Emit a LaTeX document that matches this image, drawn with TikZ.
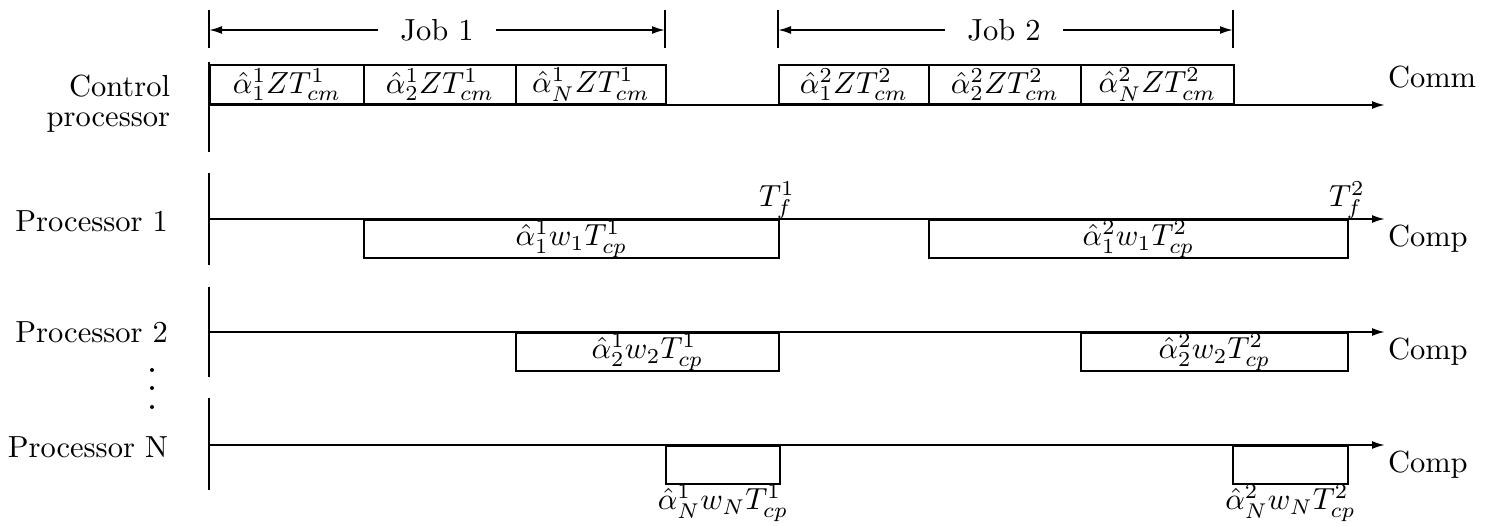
\documentclass[tikz,border=0pt]{standalone}
\usepackage{graphicx}
\usetikzlibrary{arrows.meta}
% text is set at 10pt and enlarged, so the 10pt designs are used
\newcommand\enl[1]{\scalebox{3.05}{#1}}

\begin{document}
\begin{tikzpicture}[x=1pt,y=-1pt,line width=2pt,
  every node/.style={font=\fontsize{10}{9.8}\selectfont,inner sep=0pt},
  slot/.style={draw,line width=2pt,minimum height=39pt},
  cslot/.style={slot,anchor=south west},
  pslot/.style={slot,anchor=north west,minimum height=38pt},
  tip/.style={-{Latex[length=13pt,width=8pt]}},
  axis/.style={tip,line width=2pt},
  rowlabel/.style={anchor=base east},
  outlabel/.style={anchor=base west},
  joblabel/.style={inner xsep=21pt}]
\useasboundingbox (0,0) rectangle (1492,526);

% ---- job spans ----
\coordinate (t1a) at (209,10);  \coordinate (t1b) at (209,48);
\coordinate (t2a) at (665,10);  \coordinate (t2b) at (665,48);
\coordinate (t3a) at (778,10);  \coordinate (t3b) at (778,48);
\coordinate (t4a) at (1233,10); \coordinate (t4b) at (1233,48);
\draw (t1a) -- (t1b);
\draw (t2a) -- (t2b);
\draw (t3a) -- (t3b);
\draw (t4a) -- (t4b);
\node[joblabel] (job1) at (437,30) {\enl{Job 1}};
\node[joblabel] (job2) at (1004,30) {\enl{Job 2}};
\draw[tip] (job1.west) -- (209,30);
\draw[tip] (job1.east) -- (665,30);
\draw[tip] (job2.west) -- (778,30);
\draw[tip] (job2.east) -- (1233,30);

% ---- control processor (communication) ----
\node[anchor=east] (ctl) at (171,105.5)
  {\enl{\begin{tabular}{@{}r@{}}Control\\processor\end{tabular}}};
\coordinate (cTop) at (209,62);
\coordinate (cBot) at (209,152);
\coordinate (cAx) at (209,105);
\coordinate (cEnd) at (1385,105);
\draw (cTop) -- (cBot);
\draw[axis] (cAx) -- (cEnd);
\node[outlabel] (comm) at (1387,88) {\enl{Comm}};

\node[cslot,minimum width=154pt] (c11) at (209,105) {};
\node[cslot,minimum width=152pt] (c12) at (363,105) {};
\node[cslot,minimum width=150pt] (c1N) at (515,105) {};
\node[cslot,minimum width=150pt] (c21) at (778,105) {};
\node[cslot,minimum width=152pt] (c22) at (928,105) {};
\node[cslot,minimum width=153pt] (c2N) at (1080,105) {};
\node (lc11) at (c11) {\enl{$\hat{\alpha}^1_1 Z T^1_{cm}$}};
\node (lc12) at (c12) {\enl{$\hat{\alpha}^1_2 Z T^1_{cm}$}};
\node (lc1N) at (c1N) {\enl{$\hat{\alpha}^1_N Z T^1_{cm}$}};
\node (lc21) at (c21) {\enl{$\hat{\alpha}^2_1 Z T^2_{cm}$}};
\node (lc22) at (c22) {\enl{$\hat{\alpha}^2_2 Z T^2_{cm}$}};
\node (lc2N) at (c2N) {\enl{$\hat{\alpha}^2_N Z T^2_{cm}$}};

% ---- processor 1 ----
\node[rowlabel] (p1) at (169,232) {\enl{Processor 1}};
\coordinate (p1Top) at (209,173);
\coordinate (p1Bot) at (209,265);
\coordinate (p1Ax) at (209,219);
\coordinate (p1End) at (1385,219);
\draw (p1Top) -- (p1Bot);
\draw[axis] (p1Ax) -- (p1End);
\node[pslot,minimum width=415pt] (b11) at (363,219) {};
\node[pslot,minimum width=419pt] (b21) at (928,219) {};
\node (lb11) at (b11) {\enl{$\hat{\alpha}^1_1 w_1 T^1_{cp}$}};
\node (lb21) at (b21) {\enl{$\hat{\alpha}^2_1 w_1 T^2_{cp}$}};
\node[anchor=south] (tf1) at (777,220) {\enl{$T^1_f$}};
\node[anchor=south] (tf2) at (1347,220) {\enl{$T^2_f$}};
\node[outlabel] (comp1) at (1387,247) {\enl{Comp}};

% ---- processor 2 ----
\node[rowlabel] (p2) at (169,343) {\enl{Processor 2}};
\coordinate (p2Top) at (209,287);
\coordinate (p2Bot) at (209,377);
\coordinate (p2Ax) at (209,332);
\coordinate (p2End) at (1385,332);
\draw (p2Top) -- (p2Bot);
\draw[axis] (p2Ax) -- (p2End);
\node[pslot,minimum width=263pt] (b12) at (515,332) {};
\node[pslot,minimum width=267pt] (b22) at (1080,332) {};
\node (lb12) at (b12) {\enl{$\hat{\alpha}^1_2 w_2 T^1_{cp}$}};
\node (lb22) at (b22) {\enl{$\hat{\alpha}^2_2 w_2 T^2_{cp}$}};
\node[outlabel] (comp2) at (1387,360) {\enl{Comp}};

% ---- ellipsis between rows ----
\fill (152,370) circle (2pt);
\fill (152,388) circle (2pt);
\fill (152,407) circle (2pt);

% ---- processor N ----
\node[rowlabel] (pN) at (169,457) {\enl{Processor N}};
\coordinate (pNTop) at (209,398);
\coordinate (pNBot) at (209,490);
\coordinate (pNAx) at (209,445);
\coordinate (pNEnd) at (1385,445);
\draw (pNTop) -- (pNBot);
\draw[axis] (pNAx) -- (pNEnd);
\node[pslot,minimum width=114pt] (b1N) at (665,445) {};
\node[pslot,minimum width=115pt] (b2N) at (1232,445) {};
\node[anchor=north] (l1N) at ([yshift=1pt]b1N.south) {\enl{$\hat{\alpha}^1_N w_N T^1_{cp}$}};
\node[anchor=north] (l2N) at ([yshift=1pt]b2N.south) {\enl{$\hat{\alpha}^2_N w_N T^2_{cp}$}};
\node[outlabel] (compN) at (1387,472) {\enl{Comp}};
\end{tikzpicture}
\end{document}
